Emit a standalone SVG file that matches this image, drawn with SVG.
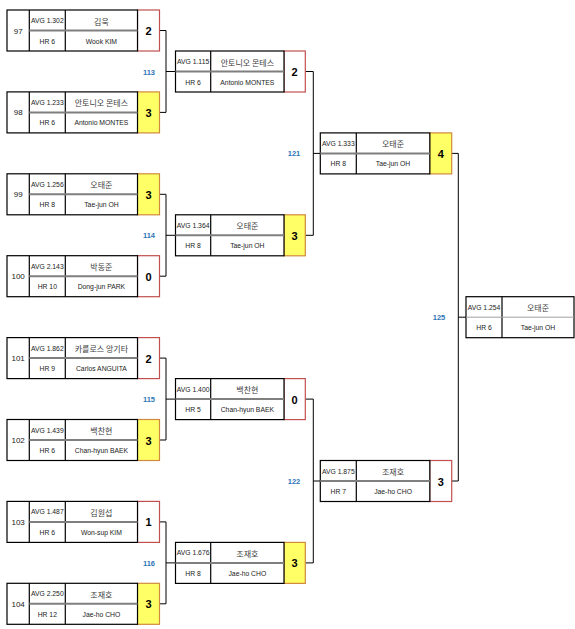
<svg xmlns="http://www.w3.org/2000/svg" width="575" height="629" viewBox="0 0 575 629">
<style>
text{font-family:"Liberation Sans","Noto Sans CJK KR",sans-serif;text-anchor:middle;dominant-baseline:central;fill:#222}
.bx{fill:#fff;stroke:#000;stroke-width:1.2}
.dv{stroke:#000;stroke-width:1.2}
.mid{stroke:#7f7f7f;stroke-width:2}
.midf{stroke:#a0a0a0;stroke-width:1}
.win{fill:#ffff66;stroke:#d08a3c;stroke-width:1.2}
.lose{fill:#fff;stroke:#c0504d;stroke-width:1.2}
.num{font-size:8px}
.sm{font-size:6.8px}
.ko{font-size:8px;font-family:"Noto Sans CJK KR",sans-serif;fill:#404040}
.scr{font-size:11px;font-weight:bold;fill:#000}
.lbl{font-size:7.5px;font-weight:bold;fill:#2e75b6}
.con{fill:none;stroke:#000;stroke-width:1}
</style>

<g id="connectors">
<path class="con" d="M159.5,30.5H166V112.4H159.5M166,71.5H175.5"/>
<path class="con" d="M159.5,194.3H166V276.2H159.5M166,235.3H175.5"/>
<path class="con" d="M159.5,358.1H166V440H159.5M166,399.1H175.5"/>
<path class="con" d="M159.5,521.9H166V603.8H159.5M166,562.9H175.5"/>
<path class="con" d="M305.3,71.5H313.3V235.3H305.3M313.3,153.4H320.3"/>
<path class="con" d="M305.3,399.1H313.3V562.9H305.3M313.3,481H320.3"/>
<path class="con" d="M451.7,153.4H458.3V481H451.7M458.3,317.2H466"/>
</g>

<g id="labels">
<text class="lbl" x="149" y="72">113</text>
<text class="lbl" x="149" y="235.5">114</text>
<text class="lbl" x="149" y="399">115</text>
<text class="lbl" x="149" y="563">116</text>
<text class="lbl" x="294" y="153.5">121</text>
<text class="lbl" x="294" y="481">122</text>
<text class="lbl" x="439" y="317.5">125</text>
</g>

<g id="m97" transform="translate(7,10)">
<rect class="lose" x="130.5" y="0" width="22" height="41"/><rect class="bx" x="0" y="0" width="130.5" height="41"/>
<line class="dv" x1="22.3" y1="0" x2="22.3" y2="41"/><line class="dv" x1="58.3" y1="0" x2="58.3" y2="41"/>
<line class="mid" x1="22.3" y1="20.5" x2="130.5" y2="20.5"/>
<text class="num" x="11.15" y="21">97</text>
<text class="sm" x="40.3" y="10.5">AVG 1.302</text><text class="sm" x="40.3" y="31">HR 6</text>
<text class="ko" x="94.4" y="11">김욱</text><text class="sm" x="94.4" y="31">Wook KIM</text>
<text class="scr" x="141.5" y="21">2</text>
</g>

<g id="m98" transform="translate(7,91.9)">
<rect class="win" x="130.5" y="0" width="22" height="41"/><rect class="bx" x="0" y="0" width="130.5" height="41"/>
<line class="dv" x1="22.3" y1="0" x2="22.3" y2="41"/><line class="dv" x1="58.3" y1="0" x2="58.3" y2="41"/>
<line class="mid" x1="22.3" y1="20.5" x2="130.5" y2="20.5"/>
<text class="num" x="11.15" y="21">98</text>
<text class="sm" x="40.3" y="10.5">AVG 1.233</text><text class="sm" x="40.3" y="31">HR 6</text>
<text class="ko" x="94.4" y="11">안토니오 몬테스</text><text class="sm" x="94.4" y="31">Antonio MONTES</text>
<text class="scr" x="141.5" y="21">3</text>
</g>

<g id="m99" transform="translate(7,173.8)">
<rect class="win" x="130.5" y="0" width="22" height="41"/><rect class="bx" x="0" y="0" width="130.5" height="41"/>
<line class="dv" x1="22.3" y1="0" x2="22.3" y2="41"/><line class="dv" x1="58.3" y1="0" x2="58.3" y2="41"/>
<line class="mid" x1="22.3" y1="20.5" x2="130.5" y2="20.5"/>
<text class="num" x="11.15" y="21">99</text>
<text class="sm" x="40.3" y="10.5">AVG 1.256</text><text class="sm" x="40.3" y="31">HR 8</text>
<text class="ko" x="94.4" y="11">오태준</text><text class="sm" x="94.4" y="31">Tae-jun OH</text>
<text class="scr" x="141.5" y="21">3</text>
</g>

<g id="m100" transform="translate(7,255.7)">
<rect class="lose" x="130.5" y="0" width="22" height="41"/><rect class="bx" x="0" y="0" width="130.5" height="41"/>
<line class="dv" x1="22.3" y1="0" x2="22.3" y2="41"/><line class="dv" x1="58.3" y1="0" x2="58.3" y2="41"/>
<line class="mid" x1="22.3" y1="20.5" x2="130.5" y2="20.5"/>
<text class="num" x="11.15" y="21">100</text>
<text class="sm" x="40.3" y="10.5">AVG 2.143</text><text class="sm" x="40.3" y="31">HR 10</text>
<text class="ko" x="94.4" y="11">박동준</text><text class="sm" x="94.4" y="31">Dong-jun PARK</text>
<text class="scr" x="141.5" y="21">0</text>
</g>

<g id="m101" transform="translate(7,337.6)">
<rect class="lose" x="130.5" y="0" width="22" height="41"/><rect class="bx" x="0" y="0" width="130.5" height="41"/>
<line class="dv" x1="22.3" y1="0" x2="22.3" y2="41"/><line class="dv" x1="58.3" y1="0" x2="58.3" y2="41"/>
<line class="mid" x1="22.3" y1="20.5" x2="130.5" y2="20.5"/>
<text class="num" x="11.15" y="21">101</text>
<text class="sm" x="40.3" y="10.5">AVG 1.862</text><text class="sm" x="40.3" y="31">HR 9</text>
<text class="ko" x="94.4" y="11">카를로스 앙기타</text><text class="sm" x="94.4" y="31">Carlos ANGUITA</text>
<text class="scr" x="141.5" y="21">2</text>
</g>

<g id="m102" transform="translate(7,419.5)">
<rect class="win" x="130.5" y="0" width="22" height="41"/><rect class="bx" x="0" y="0" width="130.5" height="41"/>
<line class="dv" x1="22.3" y1="0" x2="22.3" y2="41"/><line class="dv" x1="58.3" y1="0" x2="58.3" y2="41"/>
<line class="mid" x1="22.3" y1="20.5" x2="130.5" y2="20.5"/>
<text class="num" x="11.15" y="21">102</text>
<text class="sm" x="40.3" y="10.5">AVG 1.439</text><text class="sm" x="40.3" y="31">HR 6</text>
<text class="ko" x="94.4" y="11">백찬현</text><text class="sm" x="94.4" y="31">Chan-hyun BAEK</text>
<text class="scr" x="141.5" y="21">3</text>
</g>

<g id="m103" transform="translate(7,501.4)">
<rect class="lose" x="130.5" y="0" width="22" height="41"/><rect class="bx" x="0" y="0" width="130.5" height="41"/>
<line class="dv" x1="22.3" y1="0" x2="22.3" y2="41"/><line class="dv" x1="58.3" y1="0" x2="58.3" y2="41"/>
<line class="mid" x1="22.3" y1="20.5" x2="130.5" y2="20.5"/>
<text class="num" x="11.15" y="21">103</text>
<text class="sm" x="40.3" y="10.5">AVG 1.487</text><text class="sm" x="40.3" y="31">HR 6</text>
<text class="ko" x="94.4" y="11">김원섭</text><text class="sm" x="94.4" y="31">Won-sup KIM</text>
<text class="scr" x="141.5" y="21">1</text>
</g>

<g id="m104" transform="translate(7,583.3)">
<rect class="win" x="130.5" y="0" width="22" height="41"/><rect class="bx" x="0" y="0" width="130.5" height="41"/>
<line class="dv" x1="22.3" y1="0" x2="22.3" y2="41"/><line class="dv" x1="58.3" y1="0" x2="58.3" y2="41"/>
<line class="mid" x1="22.3" y1="20.5" x2="130.5" y2="20.5"/>
<text class="num" x="11.15" y="21">104</text>
<text class="sm" x="40.3" y="10.5">AVG 2.250</text><text class="sm" x="40.3" y="31">HR 12</text>
<text class="ko" x="94.4" y="11">조재호</text><text class="sm" x="94.4" y="31">Jae-ho CHO</text>
<text class="scr" x="141.5" y="21">3</text>
</g>

<g id="m113" transform="translate(175.5,51)">
<rect class="lose" x="108.5" y="0" width="21.3" height="41"/><rect class="bx" x="0" y="0" width="108.5" height="41"/>
<line class="dv" x1="35.2" y1="0" x2="35.2" y2="41"/>
<line class="mid" x1="0" y1="20.5" x2="108.5" y2="20.5"/>
<text class="sm" x="17.6" y="10.5">AVG 1.115</text><text class="sm" x="17.6" y="31">HR 6</text>
<text class="ko" x="71.85" y="11">안토니오 몬테스</text><text class="sm" x="71.85" y="31">Antonio MONTES</text>
<text class="scr" x="119.15" y="21">2</text>
</g>

<g id="m114" transform="translate(175.5,214.8)">
<rect class="win" x="108.5" y="0" width="21.3" height="41"/><rect class="bx" x="0" y="0" width="108.5" height="41"/>
<line class="dv" x1="35.2" y1="0" x2="35.2" y2="41"/>
<line class="mid" x1="0" y1="20.5" x2="108.5" y2="20.5"/>
<text class="sm" x="17.6" y="10.5">AVG 1.364</text><text class="sm" x="17.6" y="31">HR 8</text>
<text class="ko" x="71.85" y="11">오태준</text><text class="sm" x="71.85" y="31">Tae-jun OH</text>
<text class="scr" x="119.15" y="21">3</text>
</g>

<g id="m115" transform="translate(175.5,378.6)">
<rect class="lose" x="108.5" y="0" width="21.3" height="41"/><rect class="bx" x="0" y="0" width="108.5" height="41"/>
<line class="dv" x1="35.2" y1="0" x2="35.2" y2="41"/>
<line class="mid" x1="0" y1="20.5" x2="108.5" y2="20.5"/>
<text class="sm" x="17.6" y="10.5">AVG 1.400</text><text class="sm" x="17.6" y="31">HR 5</text>
<text class="ko" x="71.85" y="11">백찬현</text><text class="sm" x="71.85" y="31">Chan-hyun BAEK</text>
<text class="scr" x="119.15" y="21">0</text>
</g>

<g id="m116" transform="translate(175.5,542.4)">
<rect class="win" x="108.5" y="0" width="21.3" height="41"/><rect class="bx" x="0" y="0" width="108.5" height="41"/>
<line class="dv" x1="35.2" y1="0" x2="35.2" y2="41"/>
<line class="mid" x1="0" y1="20.5" x2="108.5" y2="20.5"/>
<text class="sm" x="17.6" y="10.5">AVG 1.676</text><text class="sm" x="17.6" y="31">HR 8</text>
<text class="ko" x="71.85" y="11">조재호</text><text class="sm" x="71.85" y="31">Jae-ho CHO</text>
<text class="scr" x="119.15" y="21">3</text>
</g>

<g id="m121" transform="translate(320.3,132.9)">
<rect class="win" x="109.5" y="0" width="21.9" height="41"/><rect class="bx" x="0" y="0" width="109.5" height="41"/>
<line class="dv" x1="36" y1="0" x2="36" y2="41"/>
<line class="mid" x1="0" y1="20.5" x2="109.5" y2="20.5"/>
<text class="sm" x="18" y="10.5">AVG 1.333</text><text class="sm" x="18" y="31">HR 8</text>
<text class="ko" x="72.75" y="11">오태준</text><text class="sm" x="72.75" y="31">Tae-jun OH</text>
<text class="scr" x="120.45" y="21">4</text>
</g>

<g id="m122" transform="translate(320.3,460.5)">
<rect class="lose" x="109.5" y="0" width="21.9" height="41"/><rect class="bx" x="0" y="0" width="109.5" height="41"/>
<line class="dv" x1="36" y1="0" x2="36" y2="41"/>
<line class="mid" x1="0" y1="20.5" x2="109.5" y2="20.5"/>
<text class="sm" x="18" y="10.5">AVG 1.875</text><text class="sm" x="18" y="31">HR 7</text>
<text class="ko" x="72.75" y="11">조재호</text><text class="sm" x="72.75" y="31">Jae-ho CHO</text>
<text class="scr" x="120.45" y="21">3</text>
</g>

<g id="m125" transform="translate(466,296.7)">
<rect class="bx" x="0" y="0" width="108" height="41"/>
<line class="dv" x1="36" y1="0" x2="36" y2="41"/>
<line class="midf" x1="0" y1="20.5" x2="108" y2="20.5"/>
<text class="sm" x="18" y="10.5">AVG 1.254</text><text class="sm" x="18" y="31">HR 6</text>
<text class="ko" x="72" y="11">오태준</text><text class="sm" x="72" y="31">Tae-jun OH</text>
</g>
</svg>
